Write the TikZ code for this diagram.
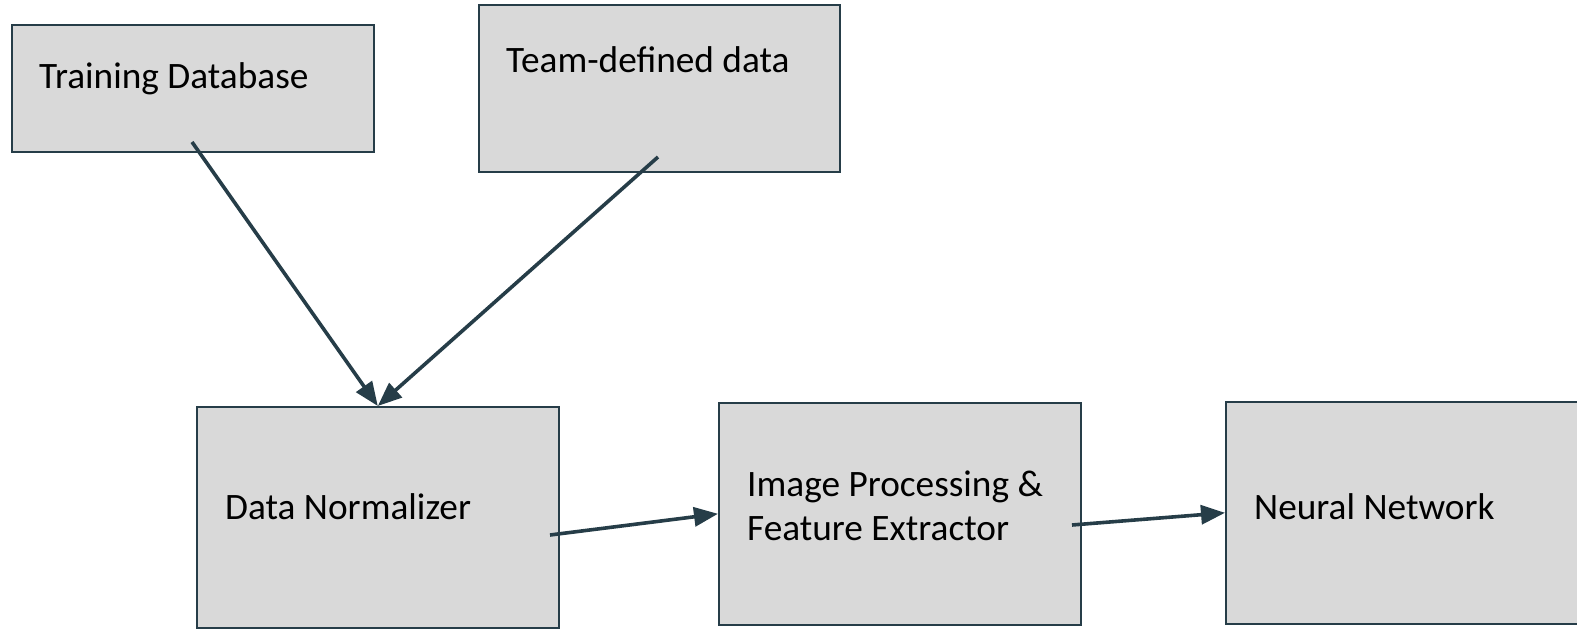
\documentclass[tikz,border=0pt]{standalone}
\usepackage{fontspec}
\setmainfont{Carlito}
\usetikzlibrary{arrows.meta}
\definecolor{boxfill}{HTML}{D9D9D9}
\definecolor{edge}{HTML}{263D48}
\begin{document}
\begin{tikzpicture}[x=1pt,y=-1pt,
  blk/.style={draw=edge,line width=1.6pt,fill=boxfill,rectangle,inner sep=0pt,anchor=north west},
  lbl/.style={anchor=base west,inner sep=0pt,font=\fontsize{37.3}{44}\selectfont,align=left},
  conn/.style={draw=edge,line width=3.6pt,-{Triangle[length=24pt,width=19pt]}}]
\useasboundingbox (0,0) rectangle (1577,629);
\clip (0,0) rectangle (1577,629);
\node[blk,minimum width=362pt,minimum height=127pt] (tdb) at (11,24) {};
\node[blk,minimum width=361pt,minimum height=167pt] (team) at (478,4) {};
\node[blk,minimum width=362pt,minimum height=221pt] (dn) at (196,406) {};
\node[blk,minimum width=362pt,minimum height=222pt] (ip) at (718,402) {};
\node[blk,minimum width=400pt,minimum height=222pt] (nn) at (1225,401) {};
\node[lbl] (t1) at (39,88) {Training Database};
\node[lbl] (t2) at (506,72) {Team-defined data};
\node[lbl] (t3) at (225,519) {Data Normalizer};
\node[lbl] (t4) at (747,540) {Image Processing \&\\Feature Extractor};
\node[lbl] (t5) at (1254,519) {Neural Network};
\coordinate (s1) at (192,142);
\coordinate (s2) at (658,157);
\coordinate (s3) at (550,535);
\coordinate (s4) at (1072,525);
\draw[conn] (s1) -- (dn.north);
\draw[conn] (s2) -- (dn.north);
\draw[conn] (s3) -- (ip.west);
\draw[conn] (s4) -- (nn.west);
\end{tikzpicture}
\end{document}
